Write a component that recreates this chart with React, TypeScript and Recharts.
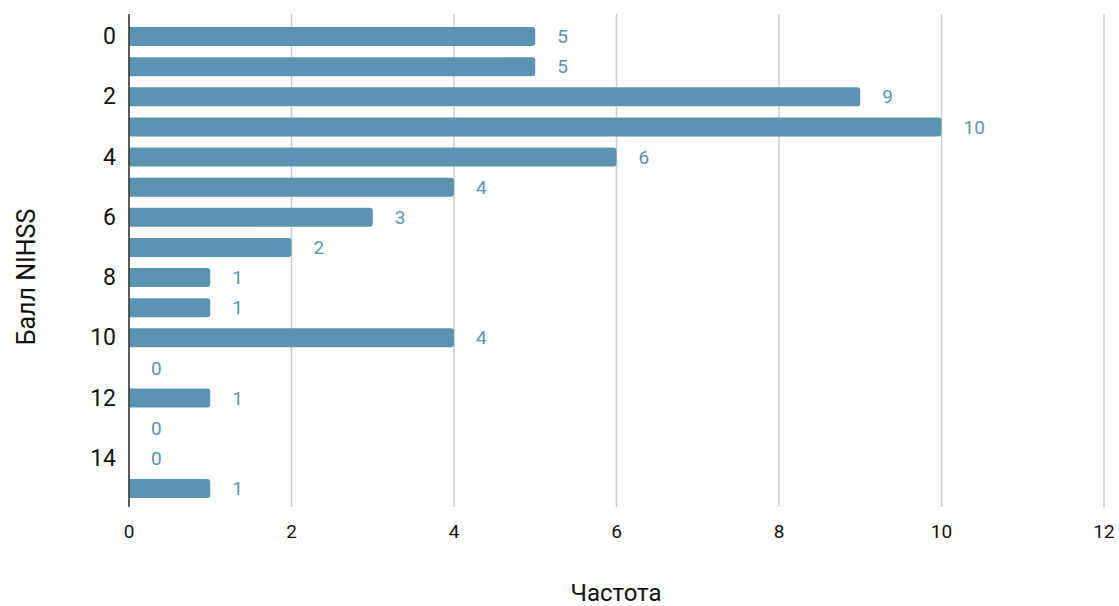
import React from "react";
import { BarChart, Bar, XAxis, YAxis, CartesianGrid, LabelList, Label } from "recharts";

const scores = [0, 1, 2, 3, 4, 5, 6, 7, 8, 9, 10, 11, 12, 13, 14, 15];
const counts = [5, 5, 9, 10, 6, 4, 3, 2, 1, 1, 4, 0, 1, 0, 0, 1];
const xTicks = [0, 2, 4, 6, 8, 10, 12];
const yTickLabels = ["0", "2", "4", "6", "8", "10", "12", "14"];

const data = scores.map((s, i) => ({ score: String(s), count: counts[i] }));

const BAR = "#5b93b0";
const FONT = "Roboto, sans-serif";

export default function App() {
  return (
    <div style={{ position: "absolute", left: 0, top: 0, width: 1119, height: 606, background: "#fff" }}>
      <BarChart
        width={1119}
        height={606}
        data={data}
        layout="vertical"
        margin={{ top: 14, right: 15, left: 0, bottom: 0 }}
        barSize={19}
        style={{ fontFamily: FONT }}
      >
        <CartesianGrid horizontal={false} stroke="#cccccc" strokeWidth={1.5} />
        <XAxis
          type="number"
          domain={[0, 12]}
          ticks={xTicks}
          axisLine={false}
          tickLine={false}
          height={99}
          tickMargin={12}
          tick={{ fill: "#111", fontSize: 19, fontFamily: FONT }}
        >
          <Label
            content={() => (
              <text
                x={616}
                y={601}
                textAnchor="middle"
                style={{ fill: "#111", fontSize: 24, fontFamily: FONT }}
              >
                Частота
              </text>
            )}
          />
        </XAxis>
        <YAxis
          type="category"
          dataKey="score"
          width={129}
          axisLine={{ stroke: "#333", strokeWidth: 1.5 }}
          tickLine={false}
          interval={0}
          padding={{ top: 7, bottom: 4 }}
          tickMargin={7}
          tickFormatter={(v: string) => (yTickLabels.includes(v) ? v : "")}
          tick={{ fill: "#111", fontSize: 23, fontFamily: FONT }}
        >
          <Label
            content={() => (
              <text
                x={26}
                y={277}
                transform="rotate(-90, 26, 277)"
                textAnchor="middle"
                dominantBaseline="central"
                style={{ fill: "#111", fontSize: 25, fontFamily: FONT }}
              >
                Балл NIHSS
              </text>
            )}
          />
        </YAxis>
        <Bar dataKey="count" fill={BAR} radius={[0, 3, 3, 0]} minPointSize={0.01} isAnimationActive={false}>
          <LabelList
            dataKey="count"
            position="right"
            offset={22}
            style={{ fill: BAR, fontSize: 19, fontFamily: FONT }}
          />
        </Bar>
      </BarChart>
    </div>
  );
}
